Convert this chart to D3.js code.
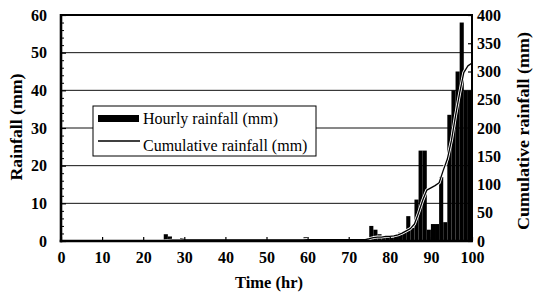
<!DOCTYPE html>
<html><head><meta charset="utf-8">
<script src="https://cdn.jsdelivr.net/npm/d3@7"></script>
<style>body{margin:0;background:#fff}svg{display:block}</style>
</head><body>
<svg id="c" width="535" height="298"></svg>
<script>
// ---- data ----
const hours = d3.range(0, 100); // start hour of each hourly bar
const hourlyRain = [
  0,0,0,0,0,0,0,0,0,0, 0,0,0,0,0,0,0,0,0,0,
  0,0,0,0,0,1.8,1.2,0,0,0.8, 0,0,0,0,0,0,0,0,0,0,
  0,0,0,0,0,0,0,0,0,0, 0,0,0,0,0,0,0,0,0,1.0,
  0,0,0,0,0,0,0,0,0,0, 0,0,0,0,0.5,4.0,3.0,1.8,1.0,0.8,
  1.0,1.5,2.2,2.5,6.6,3.5,11,24,24,3, 4.5,4.5,17,5,33.5,40,45,58,40,40
];
const cumTimes = d3.range(0, 101);
const cumRain = [
  0,0,0,0,0,0,0,0,0,0, 0,0,0,0,0,0,0,0,0,0,
  0,0,0,0,0,0,1,1.5,1.5,1.5, 2,2,2,2,2,2,2,2,2,2,
  2,2,2,2,2,2,2,2,2,2, 2,2,2,2,2,2,2,2,2,2,
  2.5,2.5,2.5,2.5,2.5,2.5,2.5,2.5,2.5,2.5, 2.5,2.5,2.5,2.5,2.5,4,6,7,7,8,
  8,9,11,14,18,22,30,50,72,90, 94,98,103,125,145,178,222,262,298,310, 315
];
const xTicks = [0,10,20,30,40,50,60,70,80,90,100];
const leftTicks = [0,10,20,30,40,50,60];
const gridValues = [10,20,30,40,50];
const rightTicks = [0,50,100,150,200,250,300,350,400];
const legendLabels = ["Hourly rainfall (mm)", "Cumulative rainfall (mm)"];

// ---- layout ----
const L = 61, R = 472, T = 15, B = 241;
const FONT = '"Liberation Serif"';
const svg = d3.select("#c");
const x = d3.scaleLinear().domain([0,100]).range([L,R]);
const y = d3.scaleLinear().domain([0,60]).range([B,T]);
const y2 = d3.scaleLinear().domain([0,400]).range([B,T]);

// gridlines
svg.append("g").selectAll("line").data(gridValues).join("line")
  .attr("x1", L).attr("x2", R)
  .attr("y1", d => y(d)).attr("y2", d => y(d))
  .attr("stroke", "#111").attr("stroke-width", 1);

// bars
svg.append("g").selectAll("rect").data(hours).join("rect")
  .attr("x", d => x(d))
  .attr("width", d => x(d+1) - x(d))
  .attr("y", (d,i) => y(hourlyRain[i]))
  .attr("height", (d,i) => B - y(hourlyRain[i]))
  .attr("fill", "#000");

// cumulative line
const line = d3.line().x((d,i) => x(cumTimes[i])).y(d => y2(d));
svg.append("path").datum(cumRain).attr("d", line)
  .attr("fill","none").attr("stroke","#fff").attr("stroke-width",3).attr("stroke-linejoin","round");
svg.append("path").datum(cumRain).attr("d", line)
  .attr("fill","none").attr("stroke","#000").attr("stroke-width",1.3).attr("stroke-linejoin","round");

// axes
const fontStyle = g => g.selectAll("text")
  .style("font-family", FONT).style("font-weight","bold").style("font-size","16px").attr("fill","#000");

const gx = svg.append("g").attr("transform", `translate(0,${B})`)
  .call(d3.axisBottom(x).tickValues(xTicks).tickSize(-4).tickPadding(11).tickFormat(d3.format("d")));
gx.select(".domain").remove(); fontStyle(gx);
gx.selectAll("line").attr("stroke-width",1.2);

const gy = svg.append("g").attr("transform", `translate(${L},0)`)
  .call(d3.axisLeft(y).tickValues(leftTicks).tickSize(-5).tickPadding(14).tickFormat(d3.format("d")));
gy.select(".domain").remove(); fontStyle(gy);
gy.selectAll("line").attr("stroke-width",1.2);

const gyMinor = svg.append("g").attr("transform", `translate(${L},0)`)
  .call(d3.axisLeft(y).tickValues(d3.range(0,61,2).filter(v => v % 10 !== 0)).tickSize(-3).tickFormat(""));
gyMinor.select(".domain").remove();

const gy2 = svg.append("g").attr("transform", `translate(${R},0)`)
  .call(d3.axisRight(y2).tickValues(rightTicks).tickSize(-4).tickPadding(5).tickFormat(d3.format("d")));
gy2.select(".domain").remove(); fontStyle(gy2);
gy2.selectAll("line").attr("stroke-width",1.2);
gy2.selectAll("text").attr("x", 5);

// frame
svg.append("line").attr("x1",L).attr("x2",R).attr("y1",T).attr("y2",T).attr("stroke","#000").attr("stroke-width",2);
svg.append("line").attr("x1",R).attr("x2",R).attr("y1",T-1).attr("y2",B+1).attr("stroke","#000").attr("stroke-width",2);
svg.append("line").attr("x1",L).attr("x2",L).attr("y1",T-1).attr("y2",B+1.3).attr("stroke","#000").attr("stroke-width",2.6);
svg.append("line").attr("x1",L-1.3).attr("x2",R+1).attr("y1",B).attr("y2",B).attr("stroke","#000").attr("stroke-width",2.6);

// axis titles
const title = (t) => t.style("font-family", FONT).style("font-weight","bold").attr("fill","#000");
title(svg.append("text").attr("transform","translate(22,127) rotate(-90)")
  .attr("text-anchor","middle").style("font-size","17px")
  .attr("textLength",107).attr("lengthAdjust","spacingAndGlyphs").text("Rainfall (mm)"));
title(svg.append("text").attr("x",269).attr("y",288)
  .attr("text-anchor","middle").style("font-size","16px")
  .attr("textLength",68).attr("lengthAdjust","spacingAndGlyphs").text("Time (hr)"));
title(svg.append("text").attr("transform","translate(529,131) rotate(-90)")
  .attr("text-anchor","middle").style("font-size","17px")
  .attr("textLength",198).attr("lengthAdjust","spacingAndGlyphs").text("Cumulative rainfall (mm)"));

// legend
const lg = svg.append("g");
lg.append("rect").attr("x",93).attr("y",106).attr("width",223).attr("height",50)
  .attr("fill","#fff").attr("stroke","#000").attr("stroke-width",1);
lg.append("rect").attr("x",98).attr("y",115).attr("width",41).attr("height",7).attr("fill","#000");
lg.append("line").attr("x1",98).attr("x2",140).attr("y1",141).attr("y2",141).attr("stroke","#000").attr("stroke-width",1.4);
lg.selectAll("text.lab").data(legendLabels).join("text").attr("class","lab")
  .attr("x",143).attr("y",(d,i) => i === 0 ? 123.5 : 151)
  .style("font-family", FONT).style("font-size","16px").attr("fill","#000").text(d => d);
</script>
</body></html>
